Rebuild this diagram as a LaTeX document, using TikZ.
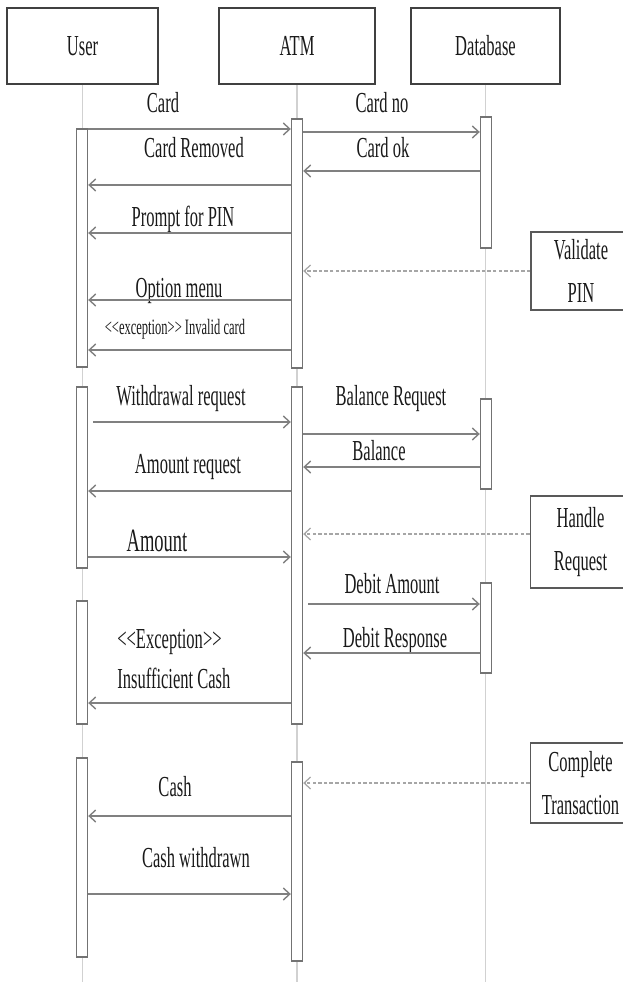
\documentclass[tikz,border=0pt]{standalone}
\usepackage{fontspec}
\setmainfont{Liberation Serif}[FakeStretch=0.57]
\usetikzlibrary{arrows.meta,positioning}

\begin{document}
\begin{tikzpicture}[
    x=0.02cm, y=-0.02cm,
    font=\fontsize{16.5}{24}\selectfont,
    head/.style={draw=black!75, line width=1.1pt, minimum width=3.02cm, minimum height=1.52cm, text=black!90},
    life/.style={draw=black!18, line width=0.6pt},
    act/.style={draw=black!55, fill=white, line width=0.8pt, minimum width=0.22cm, inner sep=0pt},
    note/.style={draw=black!65, line width=0.9pt, minimum width=2.0cm, inner sep=1pt, align=center, text=black!90},
    lbl/.style={anchor=base, inner sep=0pt, text=black!90},
    msg/.style={-{Straight Barb[length=1.3mm, width=2.4mm]}, draw=black!50, line width=0.8pt},
    hint/.style={-{Straight Barb[length=1.3mm, width=2.4mm]}, draw=black!35, line width=0.7pt, dash pattern=on 2pt off 1.2pt}
]
\useasboundingbox (0,0) rectangle (622,982);

% objects and lifelines
\node[head] (user) at (82.5,46) {User};
\node[head, minimum width=3.12cm] (atm) at (297,46) {ATM};
\node[head, minimum width=2.98cm] (db) at (485.5,46) {Database};
\coordinate (bot) at (0,982);
\foreach \n in {user,atm,db}
    \draw[life] (\n.south) -- (\n.south |- bot);

% activations
\node[act, minimum height=4.76cm] (u1) at (82,248) {};
\node[act, minimum height=3.62cm] (u2) at (82,477.5) {};
\node[act, minimum height=2.46cm] (u3) at (82,662.5) {};
\node[act, minimum height=3.98cm] (u4) at (82,857.5) {};
\node[act, minimum height=4.98cm] (a1) at (297,243.5) {};
\node[act, minimum height=6.74cm] (a2) at (297,555.5) {};
\node[act, minimum height=3.98cm] (a3) at (297,861.5) {};
\node[act, minimum height=2.62cm] (d1) at (486,182.5) {};
\node[act, minimum height=1.8cm] (d2) at (486,444) {};
\node[act, minimum height=1.8cm] (d3) at (486,628) {};

% side notes
\node[note, minimum height=1.56cm] (valpin) at (581,271) {Validate\\PIN};
\node[note, minimum height=1.84cm] (handle) at (580.5,542) {Handle\\Request};
\node[note, minimum height=1.6cm] (complete) at (580.5,783) {Complete\\Transaction};

% message labels
\node[lbl] (lcard) at (163,113) {Card};
\node[lbl] (lcardno) at (382,113) {Card no};
\node[lbl] (lremoved) at (194,158) {Card Removed};
\node[lbl] (lcardok) at (383,158) {Card ok};
\node[lbl] (lprompt) at (183,227) {Prompt for PIN};
\node[lbl] (loption) at (179,298) {Option menu};
\node[lbl, font=\fontsize{12.5}{15}\selectfont] (linvalid) at (175,335) {<\kern0pt<exception>\kern0pt> Invalid card};
\node[lbl] (lwithdraw) at (181,405) {Withdrawal request};
\node[lbl] (lbalreq) at (391,405) {Balance Request};
\node[lbl] (lbalance) at (379,460) {Balance};
\node[lbl] (lamtreq) at (188,473) {Amount request};
\node[lbl, font=\fontsize{18.5}{22}\selectfont] (lamount) at (157,551) {Amount};
\node[lbl] (ldebit) at (392,593) {Debit Amount};
\node[lbl] (ldebitres) at (395,647) {Debit Response};
\node[lbl, anchor=base west] (lexc) at (117,648) {<\kern0pt<Exception>\kern0pt>};
\node[lbl, anchor=base west] (linsuff) at (117,688) {Insufficient Cash};
\node[lbl] (lcash) at (175,796) {Cash};
\node[lbl] (lcashw) at (196,867) {Cash withdrawn};

% messages
\draw[msg] (u1.east |- 0,129) -- (a1.west |- 0,129);
\draw[msg] (a1.east |- 0,132) -- (d1.west |- 0,132);
\draw[msg] (d1.west |- 0,171) -- (a1.east |- 0,171);
\draw[msg] (a1.west |- 0,185) -- (u1.east |- 0,185);
\draw[msg] (a1.west |- 0,233) -- (u1.east |- 0,233);
\draw[msg] (a1.west |- 0,300) -- (u1.east |- 0,300);
\draw[msg] (a1.west |- 0,350) -- (u1.east |- 0,350);
\draw[msg, shorten <=1mm] (u2.east |- 0,422) -- (a2.west |- 0,422);
\draw[msg] (a2.east |- 0,434) -- (d2.west |- 0,434);
\draw[msg] (d2.west |- 0,467) -- (a2.east |- 0,467);
\draw[msg] (a2.west |- 0,491) -- (u2.east |- 0,491);
\draw[msg] (u2.east |- 0,557) -- (a2.west |- 0,557);
\draw[msg, shorten <=1mm] (a2.east |- 0,604) -- (d3.west |- 0,604);
\draw[msg] (d3.west |- 0,653) -- (a2.east |- 0,653);
\draw[msg] (a2.west |- 0,703) -- (u3.east |- 0,703);
\draw[msg] (a3.west |- 0,816) -- (u4.east |- 0,816);
\draw[msg] (u4.east |- 0,894) -- (a3.west |- 0,894);

% notes to the ATM
\draw[hint] (valpin.west) -- (a1.east |- valpin.west);
\draw[hint] (handle.west |- 0,534) -- (a2.east |- 0,534);
\draw[hint] (complete.west) -- (a3.east |- complete.west);

\end{tikzpicture}
\end{document}
